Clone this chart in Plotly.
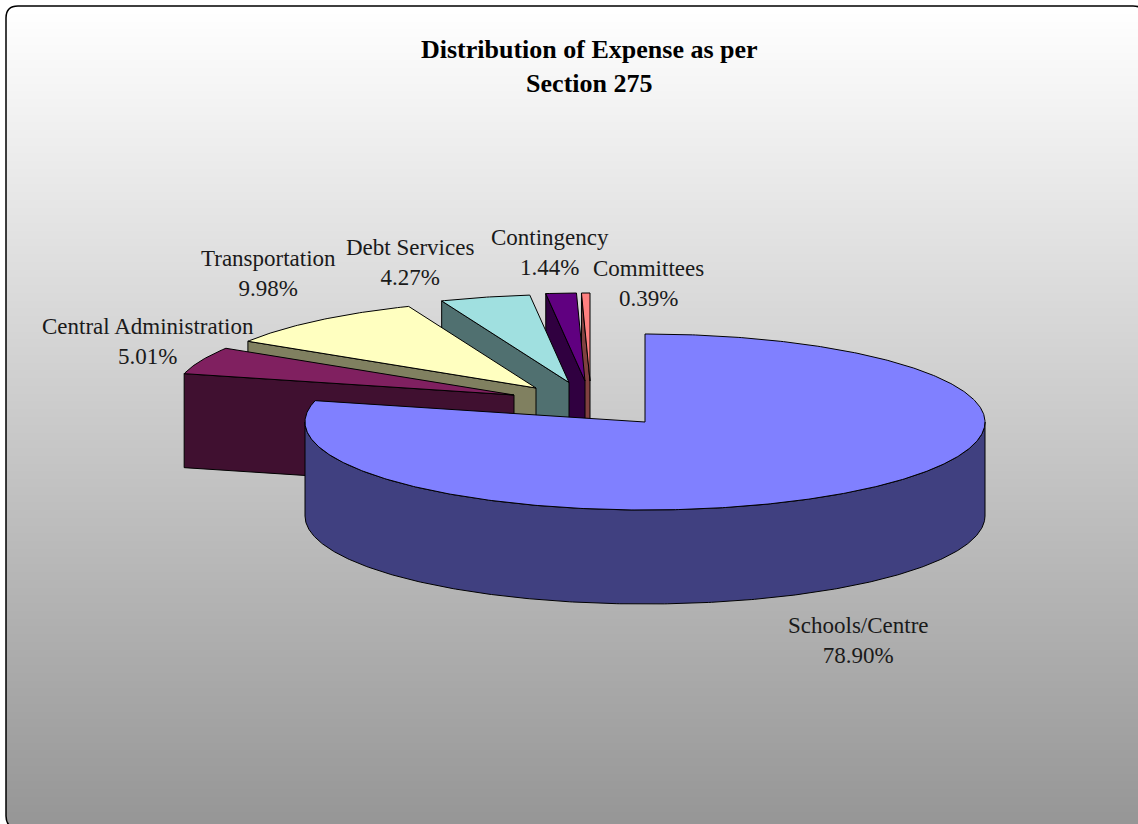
import numpy as np
import plotly.graph_objects as go

WIDTH = 1138
HEIGHT = 824

categories = [
    "Schools/Centre",
    "Central Administration",
    "Transportation",
    "Debt Services",
    "Contingency",
    "Committees",
]
shares = [78.90, 5.01, 9.98, 4.27, 1.44, 0.39]
top_colors = ["#8080ff", "#802060", "#ffffc0", "#a0e0e0", "#600080", "#ff8080"]
wall_colors = ["#404080", "#401030", "#808060", "#507070", "#300040", "#804040"]

# pixels each slice is pulled out of the pie
shift_x = [0, -131, -109, -76, -60, -55]
shift_y = [0, -27, -34, -39.5, -41, -41]

# label block centres
label_x = [858, 148, 268, 410, 550, 648]
label_y = [640, 341, 273, 262, 252, 283]

CX, CY = 645, 422
RX, RY = 340, 88
DEPTH = 94
FONT = "Liberation Serif"


def rim(a0, a1):
    # angles in degrees clockwise from 12 o'clock, flattened ellipse
    t = np.radians(np.linspace(a0, a1, max(int(abs(a1 - a0) * 2), 2)))
    return RX * np.sin(t), -RY * np.cos(t)


def poly(x, y, color):
    return go.Scatter(
        x=list(x),
        y=list(y),
        mode="lines",
        fill="toself",
        fillcolor=color,
        line={"color": "black", "width": 1},
        hoverinfo="skip",
        showlegend=False,
    )


# slice angles from the shares
stops = np.cumsum([0] + shares) * 3.6
stops[-1] = 360

# frame of the chart, runs off the page on the right and at the bottom
L, T, RT, B = 6, 6, 1145, 828
R = 12

grey = np.linspace(0, 1, 106)
background = go.Heatmap(
    x=[L, RT],
    y=np.linspace(T, B, 107),
    z=[[v] for v in grey],
    colorscale=[[0, "#ffffff"], [1, "#969696"]],
    showscale=False,
    hoverinfo="skip",
)

fig = go.Figure(data=[background])

# painter's order: back slices first, the big one last
for i in [5, 4, 3, 2, 1, 0]:
    ax, ay = CX + shift_x[i], CY + shift_y[i]
    a0, a1 = stops[i], stops[i + 1]
    rx, ry = rim(a0, a1)

    if i == 0:
        # front rim wall, 90 to 270 degrees
        wx, wy = rim(90, 270)
        fig.add_trace(
            poly(
                np.r_[ax + wx, (ax + wx)[::-1], ax + wx[0]],
                np.r_[ay + wy, (ay + wy)[::-1] + DEPTH, ay + wy[0]],
                wall_colors[i],
            )
        )
    else:
        # cut face on the leading edge
        ex, ey = ax + rx[0], ay + ry[0]
        fig.add_trace(
            poly(
                [ax, ex, ex, ax, ax],
                [ay, ey, ey + DEPTH, ay + DEPTH, ay],
                wall_colors[i],
            )
        )

    fig.add_trace(
        poly(
            np.r_[ax, ax + rx, ax],
            np.r_[ay, ay + ry, ay],
            top_colors[i],
        )
    )

annotations = [
    {
        "x": 589,
        "y": 66,
        "text": "<b>Distribution of Expense as per<br>Section 275</b>",
        "showarrow": False,
        "font": {"family": FONT, "size": 26, "color": "black"},
        "align": "center",
    }
]
for name, share, lx, ly in zip(categories, shares, label_x, label_y):
    annotations.append(
        {
            "x": lx,
            "y": ly,
            "text": f"{name}<br>{share:.2f}%",
            "showarrow": False,
            "font": {"family": FONT, "size": 23, "color": "#1a1a1a"},
            "align": "center",
        }
    )

shapes = [
    # white outside the rounded corners
    {
        "type": "path",
        "path": f"M{L},{T} L{L + R},{T} Q{L},{T} {L},{T + R} Z",
        "fillcolor": "white",
        "line": {"width": 0},
    },
    {
        "type": "path",
        "path": f"M{RT},{T} L{RT - R},{T} Q{RT},{T} {RT},{T + R} Z",
        "fillcolor": "white",
        "line": {"width": 0},
    },
    {
        "type": "path",
        "path": f"M{L},{B} L{L + R},{B} Q{L},{B} {L},{B - R} Z",
        "fillcolor": "white",
        "line": {"width": 0},
    },
    {
        "type": "path",
        "path": f"M{L},{T + R} Q{L},{T} {L + R},{T} L{RT - R},{T} Q{RT},{T} {RT},{T + R} "
        f"L{RT},{B - R} Q{RT},{B} {RT - R},{B} L{L + R},{B} Q{L},{B} {L},{B - R} Z",
        "line": {"color": "black", "width": 1.5},
    },
]

fig.update_layout(
    width=WIDTH,
    height=HEIGHT,
    margin={"l": 0, "r": 0, "t": 0, "b": 0},
    paper_bgcolor="white",
    plot_bgcolor="white",
    showlegend=False,
    xaxis={"range": [0, WIDTH], "visible": False, "fixedrange": True},
    yaxis={"range": [HEIGHT, 0], "visible": False, "fixedrange": True},
    annotations=annotations,
    shapes=shapes,
)

fig.write_html(
    "out.html",
    config={"displayModeBar": False},
    post_script="document.body.style.margin = '0'; document.body.style.overflow = 'hidden';",
)
